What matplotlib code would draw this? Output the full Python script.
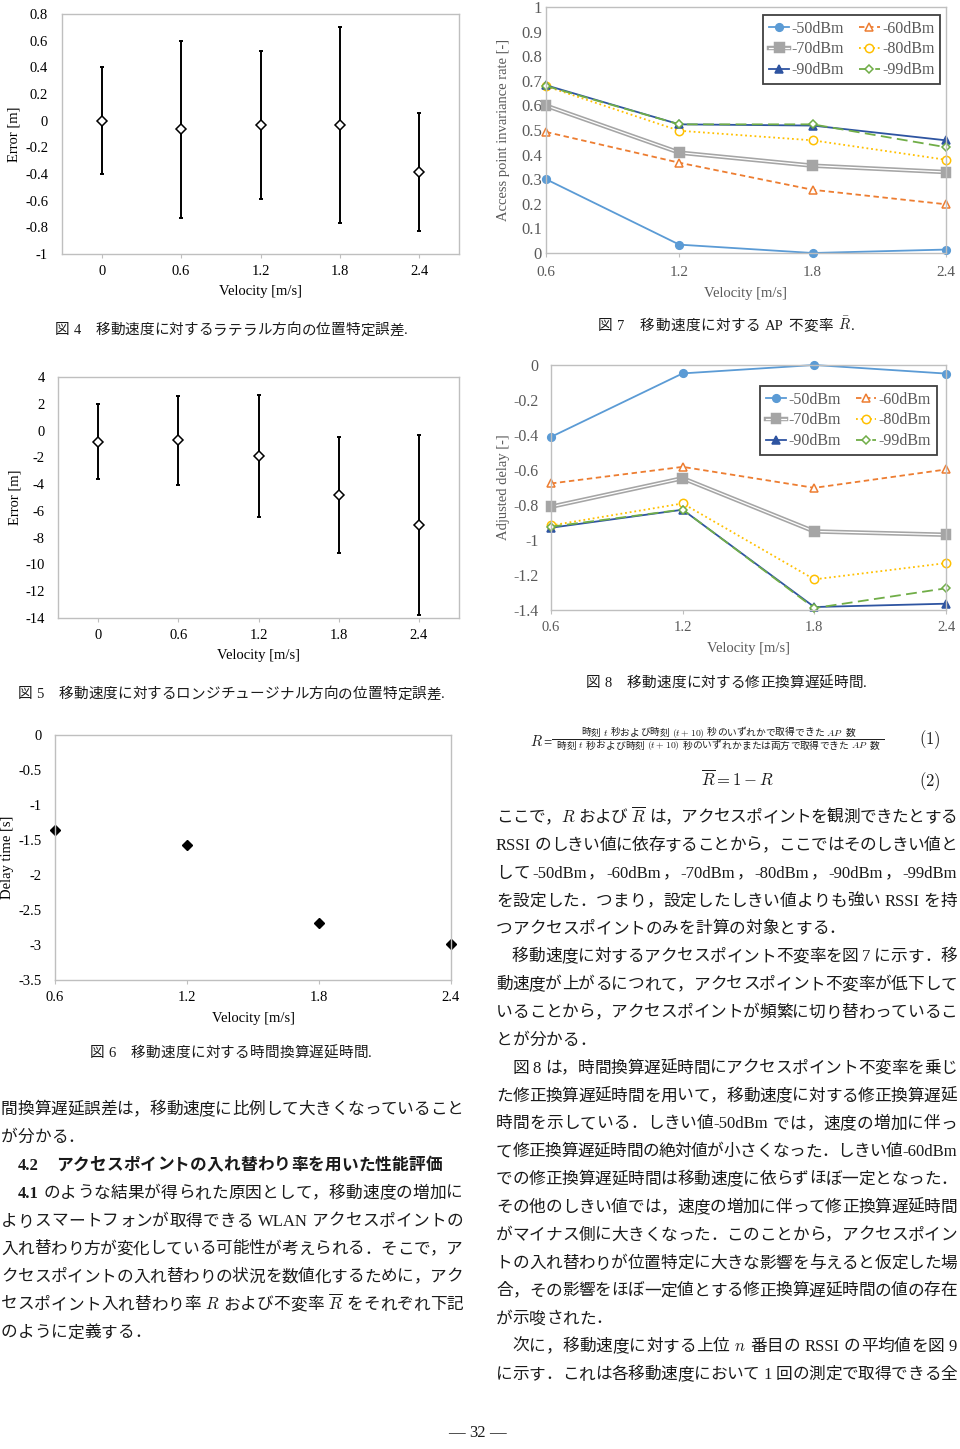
import re
import matplotlib
matplotlib.use('Agg')
import matplotlib.pyplot as plt
import matplotlib.patheffects as pe
from matplotlib.font_manager import FontProperties
from matplotlib.ticker import FuncFormatter
import numpy as np

plt.rcParams['font.family'] = ['Liberation Serif', 'Noto Sans CJK JP']
plt.rcParams['mathtext.fontset'] = 'cm'
plt.rcParams['axes.unicode_minus'] = False

# ---- data read from the page ----
vel_err = [0, 0.6, 1.2, 1.8, 2.4]
lat_mean = [0.0, -0.065, -0.035, -0.035, -0.385]
lat_sd = [0.40, 0.665, 0.555, 0.735, 0.44]
lon_mean = [-0.82, -0.74, -1.89, -4.79, -7.08]
lon_sd = [2.82, 3.31, 4.53, 4.32, 6.73]

vel = [0.6, 1.2, 1.8, 2.4]
delay = [-1.36, -1.57, -2.68, -2.99]

thresholds = ['-50dBm', '-60dBm', '-70dBm', '-80dBm', '-90dBm', '-99dBm']

inv_50 = [0.30, 0.034, 0.0, 0.014]
inv_60 = [0.492, 0.367, 0.257, 0.198]
inv_70 = [0.599, 0.408, 0.355, 0.329]
inv_80 = [0.678, 0.497, 0.458, 0.379]
inv_90 = [0.682, 0.523, 0.518, 0.458]
inv_99 = [0.679, 0.523, 0.523, 0.430]

adj_50 = [-0.411, -0.048, 0.0, -0.049]
adj_60 = [-0.677, -0.582, -0.702, -0.597]
adj_70 = [-0.810, -0.647, -0.951, -0.970]
adj_80 = [-0.917, -0.791, -1.225, -1.132]
adj_90 = [-0.930, -0.827, -1.383, -1.364]
adj_99 = [-0.924, -0.826, -1.389, -1.276]

styles = [
    dict(color='#5B9BD5', ls='-', marker='o', mfc='#5B9BD5', ms=5.5),
    dict(color='#ED7D31', ls=(0, (3, 2)), marker='^', mfc='white', ms=5.5),
    dict(color='#A5A5A5', ls='-', marker='s', mfc='#A5A5A5', ms=5.0),
    dict(color='#FFC000', ls=(0, (1, 1.6)), marker='o', mfc='white', ms=6),
    dict(color='#2E54A1', ls='-', marker='^', mfc='#2E54A1', ms=5.5),
    dict(color='#70AD47', ls=(0, (6, 3)), marker='D', mfc='white', ms=4.5),
]

W, H = 960, 1449
fig = plt.figure(figsize=(W / 100, H / 100), dpi=100)
fig.patch.set_facecolor('white')
renderer = fig.canvas.get_renderer()

BODY = ['Liberation Serif', 'Noto Sans CJK JP']
GRAY = '#595959'


def make_axes(l, t, r, b):
    return fig.add_axes([l / W, 1 - b / H, (r - l) / W, (b - t) / H])


def fmt(v, _):
    v = round(v, 3)
    if abs(v) < 1e-9:
        return '0'
    return f'{v:g}'


def style_axes(ax, color, ypad, xpad=5, ysize=10.5, xsize=10.5):
    for s in ax.spines.values():
        s.set_color('#bfbfbf')
        s.set_linewidth(1.0)
    ax.tick_params(axis='y', length=0, pad=ypad, labelsize=ysize, labelcolor=color)
    ax.tick_params(axis='x', length=3, width=0.8, color='#bfbfbf', direction='out',
                   pad=xpad, labelsize=xsize, labelcolor=color)
    ax.yaxis.set_major_formatter(FuncFormatter(fmt))
    ax.xaxis.set_major_formatter(FuncFormatter(fmt))


def set_labels(ax, xl, yl, xc, yc, color):
    ax.set_xlabel(xl, fontsize=10.5, color=color, va='center')
    ax.set_ylabel(yl, fontsize=10.5, color=color, va='center')
    ax.xaxis.set_label_coords(0.5, xc)
    ax.yaxis.set_label_coords(yc, 0.5)


def error_chart(ax, mean, sd, ylim, ystep, ypad):
    ax.errorbar(vel_err, mean, yerr=sd, fmt='none', ecolor='black', elinewidth=1.4,
                capsize=1.5, capthick=1.4, zorder=2)
    ax.plot(vel_err, mean, 'D', mfc='white', mec='black', ms=5, mew=1.1, zorder=3)
    ax.set_xlim(-0.3, 2.7)
    ax.set_xticks(vel_err)
    ax.set_ylim(*ylim)
    ax.set_yticks(np.arange(ylim[0], ylim[1] + ystep / 2, ystep))
    style_axes(ax, 'black', ypad)


def line_chart(ax, series, ylim, ystep, anchor):
    handles = []
    for i, vals in enumerate(series):
        st = styles[i]
        kw = dict(color=st['color'], ls=st['ls'], lw=1.3, marker=st['marker'], ms=st['ms'],
                  mfc=st['mfc'], mec=st['color'], mew=1.1, clip_on=False)
        if i == 2:
            kw.update(color='white', lw=0.9,
                      path_effects=[pe.Stroke(linewidth=3.2, foreground=st['color']), pe.Normal()])
        h, = ax.plot(vel, vals, **kw)
        handles.append(h)
    ax.set_xlim(0.6, 2.4)
    ax.set_xticks(vel)
    ax.set_ylim(*ylim)
    ax.set_yticks(np.arange(ylim[0], ylim[1] + ystep / 2, ystep))
    order = [0, 2, 4, 1, 3, 5]
    leg = ax.legend([handles[k] for k in order], [thresholds[k] for k in order], ncol=2,
                    loc='upper right', bbox_to_anchor=anchor, borderaxespad=0, frameon=True,
                    fancybox=False, edgecolor='#404040', framealpha=1,
                    prop=FontProperties(family='Liberation Serif', size=11.5), labelcolor=GRAY,
                    handlelength=1.3, handletextpad=0.15, columnspacing=0.9,
                    labelspacing=0.3, borderpad=0.35)
    leg.get_frame().set_linewidth(1.3)


# ---- text layout helpers ----
TOKEN = re.compile(r'\$[^$]*\$|\*\*[^*]*\*\*|[A-Za-z0-9.\-+]+| |.')


def advance(s, prop, math):
    if math:
        return renderer.get_text_width_height_descent(s, prop, ismath=True)[0]
    w1 = renderer.get_text_width_height_descent('|' + s + '|', prop, ismath=False)[0]
    w0 = renderer.get_text_width_height_descent('||', prop, ismath=False)[0]
    return w1 - w0


def draw_line(s, x, yc, size=12, width=None, align='left', bold=False, color='#1a1a1a'):
    items = []
    for p in TOKEN.findall(s):
        weight = 'bold' if bold else 'normal'
        math = False
        if p.startswith('**') and len(p) > 4:
            p = p[2:-2]
            weight = 'bold'
        elif p.startswith('$') and len(p) > 1:
            math = True
        prop = FontProperties(family=BODY, size=size, weight=weight)
        items.append((p, prop, math, advance(p, prop, math)))
    total = sum(it[3] for it in items)
    gap = 0
    if width is not None and len(items) > 1:
        gap = (width - total) / (len(items) - 1)
        total = width
    x0 = x - total / 2 if align == 'center' else x
    base = yc + size * 0.5
    for p, prop, math, w in items:
        if p != ' ':
            fig.text(x0 / W, 1 - base / H, p, fontproperties=prop, color=color,
                     ha='left', va='baseline')
        x0 += w + gap


# ---- 図4 ----
ax4 = make_axes(62, 14, 459, 254)
error_chart(ax4, lat_mean, lat_sd, (-1, 0.8), 0.2, 10)
set_labels(ax4, 'Velocity [m/s]', 'Error [m]', -0.158, -0.121, 'black')

# ---- 図7 ----
ax7 = make_axes(546, 7, 946, 253)
line_chart(ax7, [inv_50, inv_60, inv_70, inv_80, inv_90, inv_99], (0, 1), 0.1, (0.985, 0.967))
style_axes(ax7, GRAY, 3, xpad=6.5, ysize=12, xsize=11)
set_labels(ax7, 'Velocity [m/s]', 'Access point invariance rate [-]', -0.163, -0.1075, GRAY)

# ---- 図5 ----
ax5 = make_axes(58, 377, 459, 618)
error_chart(ax5, lon_mean, lon_sd, (-14, 4), 2, 9.5)
set_labels(ax5, 'Velocity [m/s]', 'Error [m]', -0.154, -0.107, 'black')

# ---- 図8 ----
ax8 = make_axes(551, 365, 946, 610)
line_chart(ax8, [adj_50, adj_60, adj_70, adj_80, adj_90, adj_99], (-1.4, 0), 0.2, (0.977, 0.914))
style_axes(ax8, GRAY, 9, ysize=11.5, xsize=10.5)
set_labels(ax8, 'Velocity [m/s]', 'Adjusted delay [-]', -0.159, -0.1215, GRAY)

# ---- 図6 ----
ax6 = make_axes(55, 735, 451, 980)
ax6.plot(vel, delay, 'D', color='black', ms=5.5, clip_on=False)
ax6.set_xlim(0.6, 2.4)
ax6.set_xticks(vel)
ax6.set_ylim(-3.5, 0)
ax6.set_yticks(np.arange(-3.5, 0.25, 0.5))
style_axes(ax6, 'black', 9.5)
set_labels(ax6, 'Velocity [m/s]', 'Delay time [s]', -0.159, -0.12, 'black')

# ---- captions ----
draw_line('図 4　移動速度に対するラテラル方向の位置特定誤差.', 55, 329, size=10.5, width=353)
draw_line('図 7　移動速度に対する AP 不変率 $\\bar{R}$.', 598, 325, size=10.5, width=257)
draw_line('図 5　移動速度に対するロンジチュージナル方向の位置特定誤差.', 18, 693, size=10.5, width=427)
draw_line('図 8　移動速度に対する修正換算遅延時間.', 586, 682, size=10.5, width=281)
draw_line('図 6　移動速度に対する時間換算遅延時間.', 90, 1052, size=10.5, width=282)

# ---- equations ----
draw_line('$R$=', 530, 741, size=10.5)
draw_line('時刻 $t$ 秒および時刻 $(t+10)$ 秒のいずれかで取得できた $AP$ 数', 718, 732, size=7, align='center')
draw_line('時刻 $t$ 秒および時刻 $(t+10)$ 秒のいずれかまたは両方で取得できた $AP$ 数', 718, 745, size=7, align='center')
fig.add_artist(plt.Line2D([552 / W, 884 / W], [1 - 739 / H, 1 - 739 / H], color='#1a1a1a', lw=0.7))
draw_line('$(1)$', 919, 738, size=12)
draw_line('$\\overline{R}=1-R$', 738, 780, size=12, align='center')
draw_line('$(2)$', 919, 780, size=12)

# ---- left column body ----
left_lines = [
    ('間換算遅延誤差は，移動速度に比例して大きくなっていること', 1, True, False),
    ('が分かる．', 1, False, False),
    ('4.2　アクセスポイントの入れ替わり率を用いた性能評価', 18, False, True),
    ('**4.1** のような結果が得られた原因として，移動速度の増加に', 18, True, False),
    ('よりスマートフォンが取得できる WLAN アクセスポイントの', 1, True, False),
    ('入れ替わり方が変化している可能性が考えられる．そこで，ア', 1, True, False),
    ('クセスポイントの入れ替わりの状況を数値化するために，アク', 1, True, False),
    ('セスポイント入れ替わり率 $R$ および不変率 $\\overline{R}$ をそれぞれ下記', 1, True, False),
    ('のように定義する．', 1, False, False),
]
for i, (txt, x, full, bold) in enumerate(left_lines):
    y = 1108 + i * 27.9
    if bold:
        draw_line(txt, x, y, width=424, bold=True)
    else:
        draw_line(txt, x, y, width=(463 - x) if full else None)

# ---- right column body ----
right_lines = [
    ('ここで，$R$ および $\\overline{R}$ は，アクセスポイントを観測できたとする', 496, True),
    ('RSSI のしきい値に依存することから，ここではそのしきい値と', 496, True),
    ('して-50dBm，-60dBm，-70dBm，-80dBm，-90dBm，-99dBm', 496, True),
    ('を設定した．つまり，設定したしきい値よりも強い RSSI を持', 496, True),
    ('つアクセスポイントのみを計算の対象とする．', 496, False),
    ('移動速度に対するアクセスポイント不変率を図 7 に示す．移', 512, True),
    ('動速度が上がるにつれて，アクセスポイント不変率が低下して', 496, True),
    ('いることから，アクセスポイントが頻繁に切り替わっているこ', 496, True),
    ('とが分かる．', 496, False),
    ('図 8 は，時間換算遅延時間にアクセスポイント不変率を乗じ', 512, True),
    ('た修正換算遅延時間を用いて，移動速度に対する修正換算遅延', 496, True),
    ('時間を示している．しきい値-50dBm では，速度の増加に伴っ', 496, True),
    ('て修正換算遅延時間の絶対値が小さくなった．しきい値-60dBm', 496, True),
    ('での修正換算遅延時間は移動速度に依らずほぼ一定となった．', 496, True),
    ('その他のしきい値では，速度の増加に伴って修正換算遅延時間', 496, True),
    ('がマイナス側に大きくなった．このことから，アクセスポイン', 496, True),
    ('トの入れ替わりが位置特定に大きな影響を与えると仮定した場', 496, True),
    ('合，その影響をほぼ一定値とする修正換算遅延時間の値の存在', 496, True),
    ('が示唆された．', 496, False),
    ('次に，移動速度に対する上位 $n$ 番目の RSSI の平均値を図 9', 512, True),
    ('に示す．これは各移動速度において 1 回の測定で取得できる全', 496, True),
]
for i, (txt, x, full) in enumerate(right_lines):
    y = 816 + i * 27.85
    draw_line(txt, x, y, width=(957 - x) if full else None)

# ---- page number ----
draw_line('— 32 —', 477, 1431, size=12, align='center')

fig.savefig('out.png', dpi=100, facecolor='white')
